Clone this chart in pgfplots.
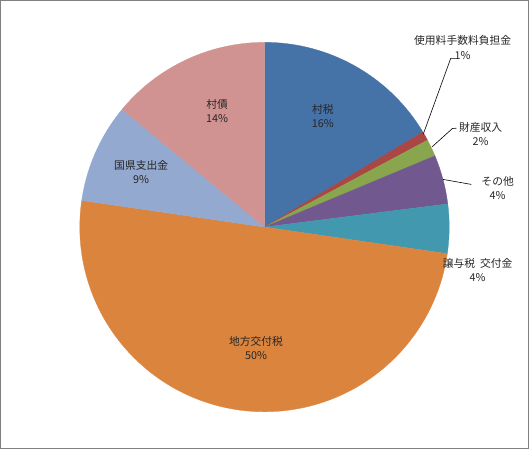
\documentclass[border=0pt]{standalone}
\usepackage{fontspec}
\setmainfont{Noto Sans CJK JP}
\usepackage{pgfplots}
\pgfplotsset{compat=1.18}
\definecolor{c1}{HTML}{4572A7}
\definecolor{c2}{HTML}{AA4643}
\definecolor{c3}{HTML}{89A54E}
\definecolor{c4}{HTML}{71588F}
\definecolor{c5}{HTML}{4198AF}
\definecolor{c6}{HTML}{DB843D}
\definecolor{c7}{HTML}{93A9CF}
\definecolor{c8}{HTML}{D19392}
\tikzset{lbl/.style={font=\fontsize{10.8bp}{14.5bp}\selectfont, align=center, inner sep=0pt, text=black!85}}
\begin{document}
\begin{tikzpicture}
\begin{axis}[scale only axis, width=529bp, height=449bp,
  xmin=0, xmax=529, ymin=-449, ymax=0,
  xtick=\empty, ytick=\empty,
  axis line style={draw=gray, line width=0.8bp},
  clip=false]
% shares (%): 村税 16.4, 使用料手数料負担金 0.8, 財産収入 1.5, その他 4.3,
% 譲与税交付金 4.3, 地方交付税 50.0, 国県支出金 8.7, 村債 14.0
\addplot[fill=c1, draw=c1, line width=0.3bp, domain=30.96:90, samples=60, variable=\t] ({264.5+185*cos(\t)},{-227+185*sin(\t)}) -- (axis cs:264.5,-227) -- cycle;
\addplot[fill=c2, draw=c2, line width=0.3bp, domain=28.08:30.96, samples=6, variable=\t] ({264.5+185*cos(\t)},{-227+185*sin(\t)}) -- (axis cs:264.5,-227) -- cycle;
\addplot[fill=c3, draw=c3, line width=0.3bp, domain=22.68:28.08, samples=8, variable=\t] ({264.5+185*cos(\t)},{-227+185*sin(\t)}) -- (axis cs:264.5,-227) -- cycle;
\addplot[fill=c4, draw=c4, line width=0.3bp, domain=7.2:22.68, samples=20, variable=\t] ({264.5+185*cos(\t)},{-227+185*sin(\t)}) -- (axis cs:264.5,-227) -- cycle;
\addplot[fill=c5, draw=c5, line width=0.3bp, domain=-8.28:7.2, samples=20, variable=\t] ({264.5+185*cos(\t)},{-227+185*sin(\t)}) -- (axis cs:264.5,-227) -- cycle;
\addplot[fill=c6, draw=c6, line width=0.3bp, domain=-188.28:-8.28, samples=150, variable=\t] ({264.5+185*cos(\t)},{-227+185*sin(\t)}) -- (axis cs:264.5,-227) -- cycle;
\addplot[fill=c7, draw=c7, line width=0.3bp, domain=-219.6:-188.28, samples=30, variable=\t] ({264.5+185*cos(\t)},{-227+185*sin(\t)}) -- (axis cs:264.5,-227) -- cycle;
\addplot[fill=c8, draw=c8, line width=0.3bp, domain=-270:-219.6, samples=50, variable=\t] ({264.5+185*cos(\t)},{-227+185*sin(\t)}) -- (axis cs:264.5,-227) -- cycle;
% leader lines
\draw[black, line width=0.6bp] (axis cs:423.5,-134) -- (axis cs:451,-58) -- (axis cs:456,-58);
\draw[black, line width=0.6bp] (axis cs:432.3,-146.7) -- (axis cs:452.7,-128.3) -- (axis cs:456.7,-128);
\draw[black, line width=0.6bp] (axis cs:443.3,-179.3) -- (axis cs:471.7,-184.3);
% labels
\node[lbl] at (axis cs:323,-116) {村税\\16\%};
\node[lbl] at (axis cs:217,-111) {村債\\14\%};
\node[lbl] at (axis cs:141,-172) {国県支出金\\9\%};
\node[lbl] at (axis cs:256,-348) {地方交付税\\50\%};
\node[lbl] at (axis cs:463,-47) {使用料手数料負担金\\1\%};
\node[lbl] at (axis cs:481,-134) {財産収入\\2\%};
\node[lbl] at (axis cs:498,-188) {その他\\4\%};
\node[lbl] at (axis cs:478,-270) {譲与税\ \ 交付金\\4\%};
\end{axis}
\end{tikzpicture}
\end{document}
